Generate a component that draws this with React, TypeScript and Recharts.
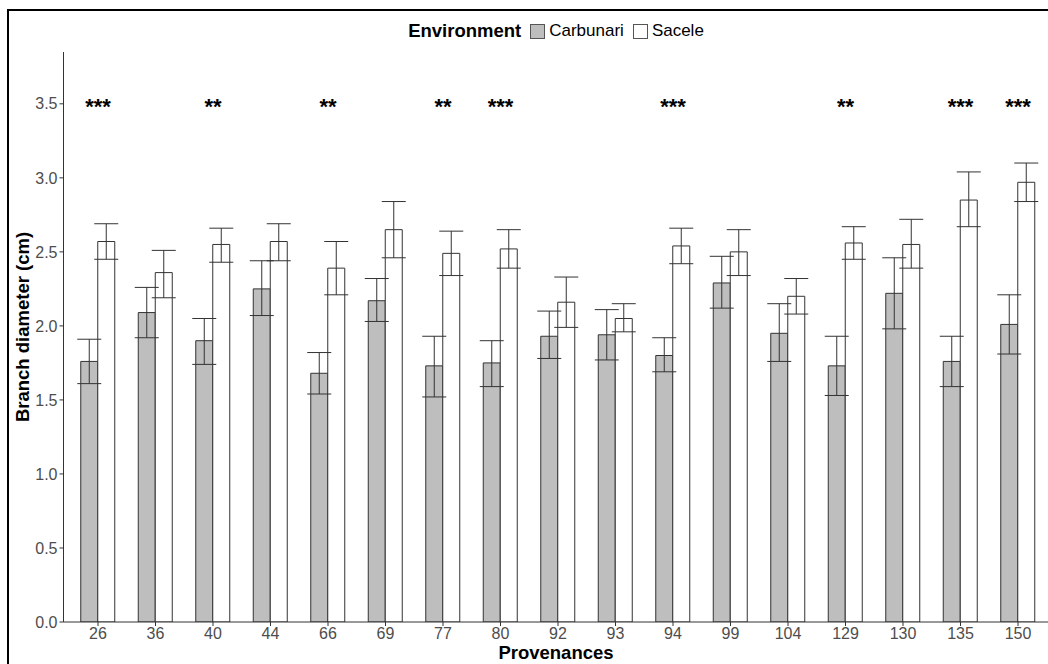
import React from 'react';
import { ComposedChart, Bar, XAxis, YAxis, ErrorBar, ReferenceDot, Legend } from 'recharts';

const provenances = ['26', '36', '40', '44', '66', '69', '77', '80', '92', '93', '94', '99', '104', '129', '130', '135', '150'];
const carbunari = [1.76, 2.09, 1.9, 2.25, 1.68, 2.17, 1.73, 1.75, 1.93, 1.94, 1.8, 2.29, 1.95, 1.73, 2.22, 1.76, 2.01];
const carbunariLow = [1.61, 1.92, 1.74, 2.07, 1.54, 2.03, 1.52, 1.59, 1.78, 1.77, 1.69, 2.12, 1.76, 1.53, 1.98, 1.59, 1.81];
const carbunariHigh = [1.91, 2.26, 2.05, 2.44, 1.82, 2.32, 1.93, 1.9, 2.1, 2.11, 1.92, 2.47, 2.15, 1.93, 2.46, 1.93, 2.21];
const sacele = [2.57, 2.36, 2.55, 2.57, 2.39, 2.65, 2.49, 2.52, 2.16, 2.05, 2.54, 2.5, 2.2, 2.56, 2.55, 2.85, 2.97];
const saceleLow = [2.45, 2.19, 2.43, 2.44, 2.21, 2.46, 2.34, 2.39, 1.99, 1.96, 2.42, 2.34, 2.08, 2.45, 2.39, 2.67, 2.84];
const saceleHigh = [2.69, 2.51, 2.66, 2.69, 2.57, 2.84, 2.64, 2.65, 2.33, 2.15, 2.66, 2.65, 2.32, 2.67, 2.72, 3.04, 3.1];
const significance = ['***', '', '**', '', '**', '', '**', '***', '', '', '***', '', '', '**', '', '***', '***'];
const starLevel = 3.5;
const yTicks = [0, 0.5, 1, 1.5, 2, 2.5, 3, 3.5];

const seriesNames = ['Carbunari', 'Sacele'];
const seriesFills = ['#BEBEBE', '#FFFFFF'];

const data = provenances.map((p, i) => ({
  prov: p,
  Carbunari: carbunari[i],
  cErr: [carbunari[i] - carbunariLow[i], carbunariHigh[i] - carbunari[i]],
  Sacele: sacele[i],
  sErr: [sacele[i] - saceleLow[i], saceleHigh[i] - sacele[i]],
}));

const FONT = '"Liberation Sans", Arial, sans-serif';

const renderLegend = () => (
  <div
    style={{
      display: 'flex',
      justifyContent: 'center',
      alignItems: 'center',
      height: 20,
      fontFamily: FONT,
      color: '#000',
      paddingLeft: 64,
    }}
  >
    <span style={{ fontWeight: 'bold', fontSize: 18.5, marginRight: 9 }}>Environment</span>
    {seriesNames.map((n, i) => (
      <span key={n} style={{ display: 'flex', alignItems: 'center', marginRight: i === 0 ? 9 : 0 }}>
        <span
          style={{
            display: 'inline-block',
            width: 13,
            height: 13,
            background: seriesFills[i],
            border: '1px solid #555',
            marginRight: 4,
          }}
        />
        <span style={{ fontSize: 17 }}>{n}</span>
      </span>
    ))}
  </div>
);

const StarShape = (text: string) => (props: any) => (
  <text
    x={props.cx}
    y={props.cy + 10}
    textAnchor="middle"
    fontFamily={FONT}
    fontSize={22}
    fontWeight="bold"
    fill="#000"
  >
    {text}
  </text>
);

const YTitle = (props: any) => {
  const vb = props.viewBox || { x: 0, y: 52, width: 63, height: 570 };
  const cx = 22;
  const cy = vb.y + vb.height / 2 - 10;
  return (
    <text
      x={cx}
      y={cy}
      transform={`rotate(-90, ${cx}, ${cy})`}
      textAnchor="middle"
      dominantBaseline="central"
      fontFamily={FONT}
      fontSize={18.5}
      fontWeight="bold"
      fill="#000"
    >
      Branch diameter (cm)
    </text>
  );
};

const XTitle = (props: any) => {
  const vb = props.viewBox || { x: 63, y: 622, width: 989, height: 42 };
  const cx = vb.x + vb.width / 2 - 2;
  const cy = 652;
  return (
    <text
      x={cx}
      y={cy}
      textAnchor="middle"
      dominantBaseline="central"
      fontFamily={FONT}
      fontSize={18.5}
      fontWeight="bold"
      fill="#000"
    >
      Provenances
    </text>
  );
};

export default function App() {
  return (
    <div style={{ position: 'absolute', left: 0, top: 0, width: 1048, height: 664, overflow: 'hidden', background: '#fff' }}>
      <div
        style={{
          position: 'absolute',
          left: 7,
          top: 9,
          width: 1200,
          height: 800,
          borderLeft: '2px solid #000',
          borderTop: '2px solid #000',
        }}
      />
      <div style={{ position: 'absolute', left: 0, top: 0 }}>
        <ComposedChart
          width={1048}
          height={664}
          data={data}
          margin={{ top: 32, right: -4.5, bottom: 0, left: 0 }}
          barCategoryGap="20%"
          barGap={0}
        >
          <Legend
            verticalAlign="top"
            content={renderLegend}
            wrapperStyle={{ top: 21, left: 0, width: 1048, height: 20 }}
          />
          <XAxis
            dataKey="prov"
            type="category"
            height={42}
            padding={{ left: 5.75, right: 5.75 }}
            axisLine={{ stroke: '#333', strokeWidth: 1 }}
            tickLine={{ stroke: '#333' }}
            tickSize={4}
            tick={{ fill: '#4D4D4D', fontSize: 16, fontFamily: FONT }}
            interval={0}
            label={<XTitle />}
          />
          <YAxis
            type="number"
            domain={[0, 3.85]}
            ticks={yTicks}
            width={63.5}
            allowDataOverflow
            axisLine={{ stroke: '#333', strokeWidth: 1 }}
            tickLine={{ stroke: '#333' }}
            tickSize={4}
            tick={{ fill: '#4D4D4D', fontSize: 16, fontFamily: FONT }}
            tickFormatter={(v: number) => v.toFixed(1)}
            label={<YTitle />}
          />
          <Bar dataKey="Carbunari" fill={seriesFills[0]} stroke="#333" strokeWidth={1} isAnimationActive={false}>
            <ErrorBar dataKey="cErr" width={12} stroke="#333" strokeWidth={1} direction="y" />
          </Bar>
          <Bar dataKey="Sacele" fill={seriesFills[1]} stroke="#333" strokeWidth={1} isAnimationActive={false}>
            <ErrorBar dataKey="sErr" width={12} stroke="#333" strokeWidth={1} direction="y" />
          </Bar>
          {provenances.map((p, i) =>
            significance[i] ? (
              <ReferenceDot key={p} x={p} y={starLevel} r={0} shape={StarShape(significance[i])} />
            ) : null
          )}
        </ComposedChart>
      </div>
    </div>
  );
}
